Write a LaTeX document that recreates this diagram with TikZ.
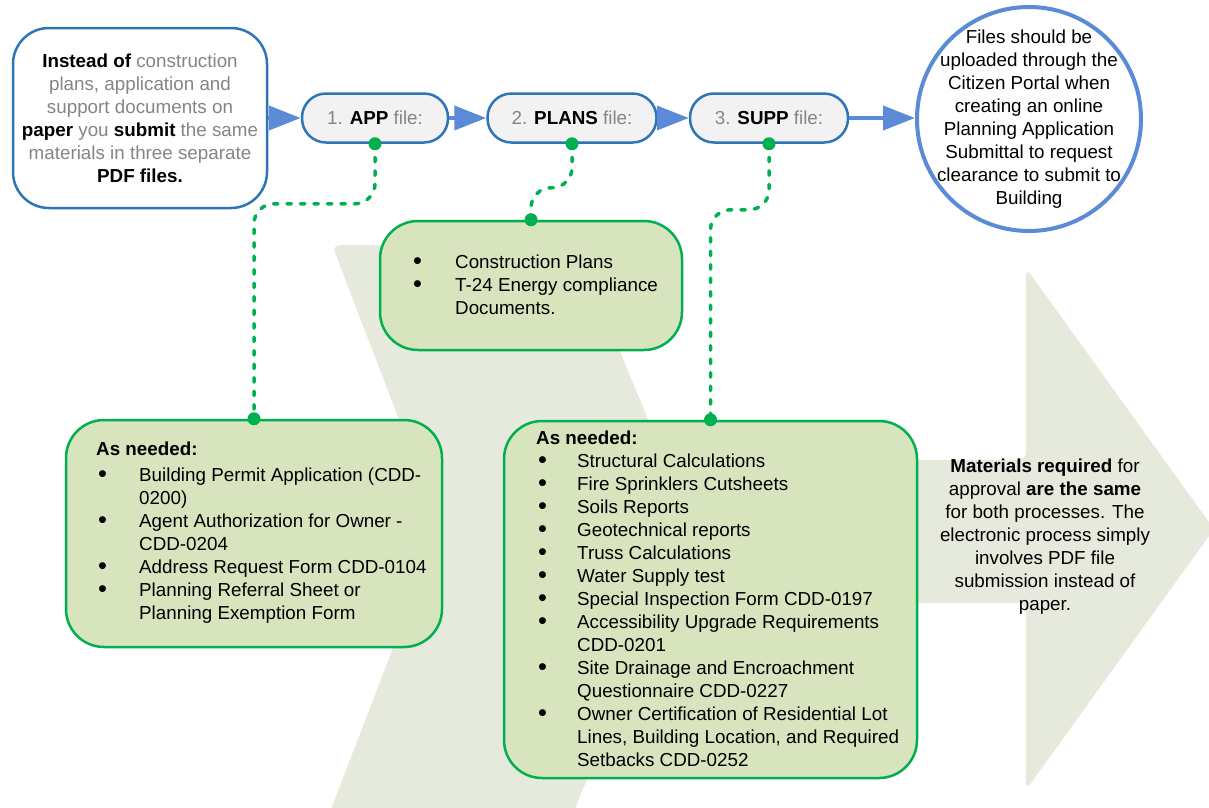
\documentclass[tikz,border=0pt]{standalone}
\usepackage{fontspec}
\setmainfont{Liberation Sans}
\usetikzlibrary{arrows.meta}
\definecolor{darkblue}{HTML}{2E75B6}
\definecolor{lightblue}{HTML}{5B8BD6}
\definecolor{pillgray}{HTML}{F2F2F2}
\definecolor{boxgreen}{HTML}{00B050}
\definecolor{fillgreen}{HTML}{D7E4BD}
\definecolor{backshade}{HTML}{E6EADC}
\definecolor{softgray}{HTML}{858585}
\newcommand{\boldword}[1]{{\color{black}\bfseries #1}}
\newcommand{\listdot}{\hspace{2pt}\raisebox{-1pt}{\scalebox{1.35}{\textbullet}}}
\begin{document}
\begin{tikzpicture}[x=1pt, y=-1pt, font=\fontsize{18.8}{23}\selectfont,
	pill/.style={draw=darkblue, line width=2.5pt, fill=pillgray, rounded corners=24pt, minimum height=49pt, inner sep=0pt, text=softgray},
	itembox/.style={draw=boxgreen, line width=2.5pt, fill=fillgreen, rounded corners=38pt, inner sep=0pt},
	flow/.style={lightblue, line width=4pt, -{Triangle[length=32pt, width=24pt]}},
	link/.style={boxgreen, line width=3.5pt, line cap=round, dash pattern=on 4.5pt off 9pt, rounded corners=20pt}]
	\useasboundingbox (0,0) rectangle (1209,807);
	\fill[backshade, rounded corners=8pt] (332,245) -- (576,245) -- (692,526) -- (566,830) -- (323,830) -- (440,526) -- cycle;
	\fill[backshade, rounded corners=8pt] (650,460) -- (1026,460) -- (1026,268) -- (1214,529) -- (1026,790) -- (1026,603) -- (650,603) -- cycle;
	\node[draw=darkblue, line width=2.5pt, fill=white, rounded corners=36pt, minimum width=254pt, minimum height=180pt, inner sep=0pt, align=center, text=softgray] (intro) at (140,118)
		{\boldword{Instead of} construction\\ plans, application and\\ support documents on\\ \boldword{paper} you \boldword{submit} the same\\ materials in three separate\\ \boldword{PDF files.}};
	\node[pill, minimum width=146pt] (app) at (375,118) {1. \boldword{APP} file:};
	\node[pill, minimum width=169pt] (plans) at (572,118) {2. \boldword{PLANS} file:};
	\node[pill, minimum width=158pt] (supp) at (769,118) {3. \boldword{SUPP} file:};
	\node[circle, draw=lightblue, line width=4pt, fill=white, minimum size=224pt, inner sep=0pt] (portal) at (1029,119) {};
	\node[align=center] (portaltext) at (portal.center)
		{Files should be\\ uploaded through the\\ Citizen Portal when\\ creating an online\\ Planning Application\\ Submittal to request\\ clearance to submit to\\ Building};
	\node[itembox, minimum width=302pt, minimum height=129pt] (planbox) at (531,285.5) {};
	\node[itembox, minimum width=376pt, minimum height=227pt] (appbox) at (254,533.5) {};
	\node[itembox, minimum width=413pt, minimum height=357pt] (suppbox) at (710.5,599.5) {};
	\node[anchor=base west, inner sep=0pt] (planlist) at (411,268) {\begin{tabular}[t]{@{}p{44pt}@{}l@{}}
		\listdot & Construction Plans\\
		\listdot & T-24 Energy compliance\\
		& Documents.\end{tabular}};
	\node[anchor=base west, inner sep=0pt] (applist) at (96,455) {\begin{tabular}[t]{@{}p{43pt}@{}l@{}}
		\multicolumn{2}{@{}l@{}}{\textbf{As needed:}}\\[3pt]
		\listdot & Building Permit Application (CDD-\\
		& 0200)\\
		\listdot & Agent Authorization for Owner -\\
		& CDD-0204\\
		\listdot & Address Request Form CDD-0104\\
		\listdot & Planning Referral Sheet or\\
		& Planning Exemption Form\end{tabular}};
	\node[anchor=base west, inner sep=0pt] (supplist) at (536,444) {\begin{tabular}[t]{@{}p{41pt}@{}l@{}}
		\multicolumn{2}{@{}l@{}}{\textbf{As needed:}}\\
		\listdot & Structural Calculations\\
		\listdot & Fire Sprinklers Cutsheets\\
		\listdot & Soils Reports\\
		\listdot & Geotechnical reports\\
		\listdot & Truss Calculations\\
		\listdot & Water Supply test\\
		\listdot & Special Inspection Form CDD-0197\\
		\listdot & Accessibility Upgrade Requirements\\
		& CDD-0201\\
		\listdot & Site Drainage and Encroachment\\
		& Questionnaire CDD-0227\\
		\listdot & Owner Certification of Residential Lot\\
		& Lines, Building Location, and Required\\
		& Setbacks CDD-0252\end{tabular}};
	\node[align=center] (sametext) at (1045,537)
		{\textbf{Materials required} for\\ approval \textbf{are the same}\\ for both processes. The\\ electronic process simply\\ involves PDF file\\ submission instead of\\ paper.};
	\draw[flow] (intro.east) -- (app.west);
	\draw[flow] (app.east) -- (plans.west);
	\draw[flow] (plans.east) -- (supp.west);
	\draw[flow] (supp.east) -- (supp.east -| portal.west);
	\draw[link] (app.south) -- ++(0,60) -| (appbox.north);
	\draw[link] (plans.south) -- ++(0,44) -| (planbox.north);
	\draw[link] (supp.south) -- ++(0,66) -| (suppbox.north);
	\fill[boxgreen] (app.south) circle (6.5pt) (appbox.north) circle (6.5pt)
		(plans.south) circle (6.5pt) (planbox.north) circle (6.5pt)
		(supp.south) circle (6.5pt) (suppbox.north) circle (6.5pt);
\end{tikzpicture}
\end{document}
